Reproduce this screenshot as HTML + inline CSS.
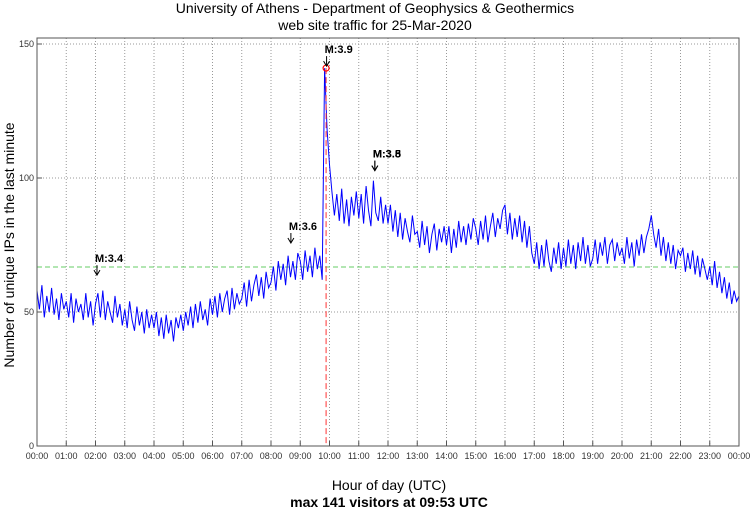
<!DOCTYPE html>
<html><head><meta charset="utf-8"><style>
body{margin:0;background:#fff}
svg{display:block;font-family:"Liberation Sans",sans-serif}
</style></head><body>
<svg id="chart" width="750" height="511" viewBox="0 0 750 511">
<text x="375" y="13" text-anchor="middle" font-size="14">University of Athens - Department of Geophysics &amp; Geothermics</text>
<text x="375" y="30" text-anchor="middle" font-size="14">web site traffic for 25-Mar-2020</text>
<text transform="translate(14,245) rotate(-90)" text-anchor="middle" font-size="14">Number of unique IPs in the last minute</text>
<text x="389" y="490" text-anchor="middle" font-size="14">Hour of day (UTC)</text>
<text x="389" y="507" text-anchor="middle" font-size="14" font-weight="bold">max 141 visitors at 09:53 UTC</text>
<g id="grid"></g><g id="plot"></g><g id="axes"></g>
</svg>
<script>
const yTicks=[0,50,100,150];
const xTickLabels=["00:00","01:00","02:00","03:00","04:00","05:00","06:00","07:00","08:00","09:00","10:00","11:00","12:00","13:00","14:00","15:00","16:00","17:00","18:00","19:00","20:00","21:00","22:00","23:00","00:00"];
const visitors=[
58,51,60,48,56,50,59,49,55,47,57,51,
54,48,57,46,55,50,53,47,57,48,54,45,
53,57,48,58,47,54,50,46,56,48,53,45,
51,44,54,47,43,52,45,50,42,51,44,49,
44,50,41,48,40,49,42,47,39,48,44,49,
43,50,45,52,44,53,46,54,47,51,45,55,
49,56,48,57,50,55,58,49,59,51,57,53,
55,61,52,62,54,60,64,56,63,55,65,59,
61,67,58,69,62,68,60,71,63,69,62,72,
69,62,73,65,71,63,74,66,71,62,141,118,
105,95,86,94,84,96,83,92,82,93,86,95,
85,94,83,97,88,82,99,87,84,93,83,90,
83,90,80,88,78,87,77,85,80,76,86,79,
80,74,84,75,82,72,79,83,73,81,76,82,
75,82,72,81,74,84,76,82,75,83,77,85,
81,75,84,77,86,76,82,87,78,85,81,88,
90,79,87,77,85,78,86,76,84,74,82,72,
68,76,66,75,67,77,69,65,74,68,76,66,
74,67,77,68,75,66,76,69,78,68,75,67,
70,77,68,76,71,78,68,75,77,69,76,71,
74,68,78,70,76,67,77,71,79,72,78,81,
86,79,74,81,71,78,69,76,68,75,66,73,
71,74,65,72,66,73,64,71,63,70,66,62,
67,60,69,59,65,57,63,55,61,53,58,54,56];
const averageLevel=66.8;
const peakHour=9+53/60, peakValue=141;
const quakeLabels=["M:3.4","M:3.6","M:3.9","M:3.5","M:3.8"];
const quakeHours=[2.05,8.68,9.9,11.55,11.55];
const quakeValues=[63,75,141,102,102];

const L=37,R=739,T=38,B=446;
const X=h=>L+h*(R-L)/24;
const Y=v=>B-v*(B-44)/150;
const NS="http://www.w3.org/2000/svg";
function mk(parent,tag,attrs){const e=document.createElementNS(NS,tag);for(const k in attrs)e.setAttribute(k,attrs[k]);document.getElementById(parent).appendChild(e);return e;}

xTickLabels.forEach((t,i)=>{
  if(i>0&&i<24){const g=mk('grid','line',{x1:X(i),x2:X(i),y1:T,y2:B,stroke:'#999','stroke-dasharray':'1,2','stroke-width':1});
  
  }
  const tk=mk('axes','line',{x1:X(i),x2:X(i),y1:B,y2:B-5,stroke:'#555'});
  
  
  const tx=mk('axes','text',{x:X(i),y:B+13,'text-anchor':'middle','font-size':9,fill:'#333'});
  tx.textContent=t;
  
  
});
yTicks.forEach(v=>{
  if(v>0){const g=mk('grid','line',{x1:L,x2:R,y1:Y(v),y2:Y(v),stroke:'#999','stroke-dasharray':'1,2'});
  
  }
  const tk=mk('axes','line',{x1:L,x2:L+5,y1:Y(v),y2:Y(v),stroke:'#555'});
  
  
  const tx=mk('axes','text',{x:L-3,y:Y(v)+3,'text-anchor':'end','font-size':9,fill:'#333'});
  tx.textContent=v;
  
  
});
const frame=mk('axes','rect',{x:L,y:T,width:R-L,height:B-T,fill:'none',stroke:'#555'});



const avg=mk('plot','line',{x1:L,x2:R,y1:Y(averageLevel),y2:Y(averageLevel),stroke:'#6c6','stroke-dasharray':'5,3'});


const pts=visitors.map((v,i)=>X(i/12).toFixed(1)+','+Y(v).toFixed(1)).join(' ');
const line=mk('plot','polyline',{points:pts,fill:'none',stroke:'#00f','stroke-width':1});


const pl=mk('plot','line',{x1:X(peakHour),x2:X(peakHour),y1:Y(peakValue),y2:B,stroke:'#f33','stroke-dasharray':'6,3'});


const pc=mk('plot','circle',{cx:X(peakHour),cy:Y(peakValue),r:3,fill:'none',stroke:'#f00','stroke-width':1.2});



quakeLabels.forEach((lab,i)=>{
  const x=X(quakeHours[i]),y=Y(quakeValues[i]);
  const a=mk('plot','line',{x1:x,x2:x,y1:y-12,y2:y-3,stroke:'#000'});
  
  
  const h=mk('plot','path',{d:`M${x-3},${y-7} L${x},${y-2} L${x+3},${y-7}`,fill:'none',stroke:'#000'});
  
  
  const t=mk('plot','text',{x:x-2,y:y-15,'font-size':11,'font-weight':'bold',fill:'#000'});
  t.textContent=lab;
  
  
});
</script>
</body></html>
